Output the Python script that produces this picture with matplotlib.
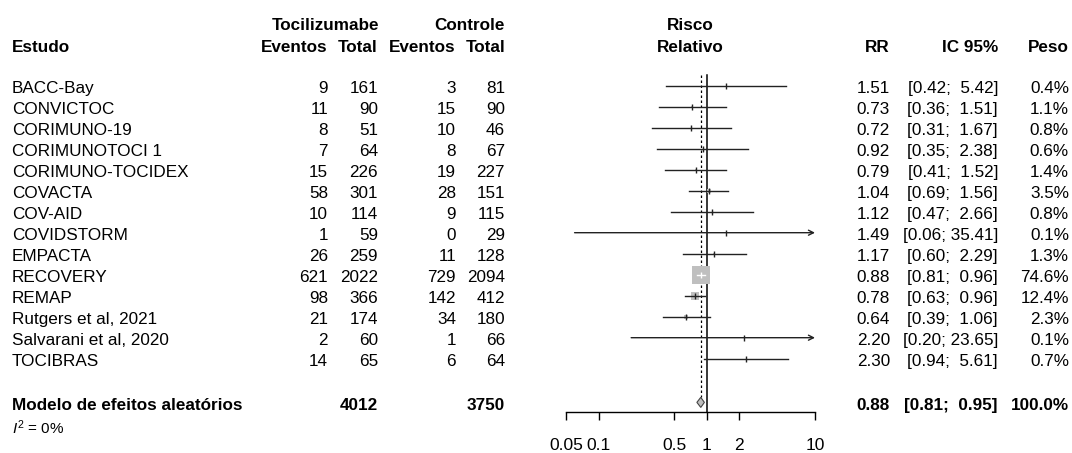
import numpy as np
import matplotlib

matplotlib.use("Agg")
import matplotlib.pyplot as plt  # noqa: E402
from matplotlib.transforms import blended_transform_factory  # noqa: E402

plt.rcParams["font.family"] = ["Liberation Sans", "DejaVu Sans"]
plt.rcParams["mathtext.fontset"] = "custom"
plt.rcParams["mathtext.rm"] = "Liberation Sans"
plt.rcParams["mathtext.it"] = "Liberation Sans:italic"

# ---- data ----
studies = [
    "BACC-Bay", "CONVICTOC", "CORIMUNO-19", "CORIMUNOTOCI 1", "CORIMUNO-TOCIDEX",
    "COVACTA", "COV-AID", "COVIDSTORM", "EMPACTA", "RECOVERY", "REMAP",
    "Rutgers et al, 2021", "Salvarani et al, 2020", "TOCIBRAS",
]
ev_toci = [9, 11, 8, 7, 15, 58, 10, 1, 26, 621, 98, 21, 2, 14]
n_toci = [161, 90, 51, 64, 226, 301, 114, 59, 259, 2022, 366, 174, 60, 65]
ev_ctrl = [3, 15, 10, 8, 19, 28, 9, 0, 11, 729, 142, 34, 1, 6]
n_ctrl = [81, 90, 46, 67, 227, 151, 115, 29, 128, 2094, 412, 180, 66, 64]
rr = [1.51, 0.73, 0.72, 0.92, 0.79, 1.04, 1.12, 1.49, 1.17, 0.88, 0.78, 0.64, 2.20, 2.30]
ci_lo = [0.42, 0.36, 0.31, 0.35, 0.41, 0.69, 0.47, 0.06, 0.60, 0.81, 0.63, 0.39, 0.20, 0.94]
ci_hi = [5.42, 1.51, 1.67, 2.38, 1.52, 1.56, 2.66, 35.41, 2.29, 0.96, 0.96, 1.06, 23.65, 5.61]
weight = [0.4, 1.1, 0.8, 0.6, 1.4, 3.5, 0.8, 0.1, 1.3, 74.6, 12.4, 2.3, 0.1, 0.7]
pooled_rr, pooled_lo, pooled_hi, pooled_weight = 0.88, 0.81, 0.95, 100.0
total_toci, total_ctrl = 4012, 3750
i2 = 0
ticks = [0.05, 0.1, 0.5, 1, 2, 10]
x_lim = (0.05, 10)

# ---- layout (pixels of a 1072x453 canvas) ----
W, H = 1072, 453
FS = 12.3
row0_px, row_h = 85.7, 21.0
px_per_dec = 249 / np.log10(x_lim[1] / x_lim[0])
max_sq_px = 18.0
text_dy = 0.13  # text sits a little below the marks' row centre


def fx(px):
    return px / W


fig = plt.figure(figsize=(W / 100, H / 100), dpi=100)
ax = fig.add_axes([fx(566), 0, fx(249), 1])
ax.set_xscale("log")
ax.set_xlim(*x_lim)
ax.set_ylim((H - row0_px) / row_h, -row0_px / row_h)
ax.patch.set_visible(False)
for s in ("top", "left", "right"):
    ax.spines[s].set_visible(False)

y_rows = np.arange(len(studies))
y_sum = 15.08
y_axis = 15.55

ax.spines["bottom"].set_position(("data", y_axis))
ax.spines["bottom"].set_bounds(*x_lim)
ax.spines["bottom"].set_linewidth(1.0)
ax.set_yticks([])
ax.set_xticks(ticks)
ax.set_xticklabels([f"{t:g}" for t in ticks])
ax.xaxis.set_minor_locator(matplotlib.ticker.NullLocator())
ax.tick_params(axis="x", length=8 * 0.72, width=1.0, pad=12.5, labelsize=12.5)

# reference lines
ax.plot([1, 1], [-0.5, y_axis], color="black", lw=1.1, clip_on=False)
ax.plot([pooled_rr, pooled_rr], [-0.5, y_sum - 0.25], color="black", lw=0.9,
        ls=(0, (2, 2)), clip_on=False)

# study rows
for y, est, lo, hi, w in zip(y_rows, rr, ci_lo, ci_hi, weight):
    side_px = max_sq_px * np.sqrt(w / max(weight))
    half_dec = side_px / 2 / px_per_dec
    inside = lo >= est / 10 ** half_dec and hi <= est * 10 ** half_dec
    ax.plot(est, y, marker="s", ms=side_px * 0.72, color="#bfbfbf", mew=0,
            zorder=2, clip_on=False)
    col = "white" if inside else "#222222"
    if hi > x_lim[1]:
        ax.annotate("", xy=(x_lim[1], y), xytext=(lo, y),
                    arrowprops=dict(arrowstyle="->", lw=1.0, color=col,
                                    shrinkA=0, shrinkB=0, mutation_scale=9),
                    annotation_clip=False, zorder=3)
    else:
        ax.plot([lo, hi], [y, y], color=col, lw=1.0, zorder=3, clip_on=False)
    ax.plot(est, y, marker="|", ms=4.5, mew=1.0, color=col, zorder=4, clip_on=False)

# pooled diamond
dh = 0.24
ax.fill([pooled_lo, pooled_rr, pooled_hi, pooled_rr],
        [y_sum, y_sum - dh, y_sum, y_sum + dh],
        facecolor="#bfbfbf", edgecolor="#444444", lw=0.8, zorder=3, clip_on=False)

# ---- text columns ----
tr = blended_transform_factory(fig.transFigure, ax.transData)


def txt(px, y, s, ha="right", bold=False, size=FS):
    ax.text(fx(px), y + text_dy, s, transform=tr, ha=ha, va="center", fontsize=size,
            fontweight="bold" if bold else "normal")


# headers
y_h1, y_h2 = -2.99, -1.94
txt(12, y_h2, "Estudo", ha="left", bold=True)
txt(379, y_h1, "Tocilizumabe", bold=True)
txt(505, y_h1, "Controle", bold=True)
txt(328, y_h2, "Eventos", bold=True)
txt(378, y_h2, "Total", bold=True)
txt(456, y_h2, "Eventos", bold=True)
txt(505, y_h2, "Total", bold=True)
txt(690, y_h1, "Risco", ha="center", bold=True)
txt(690, y_h2, "Relativo", ha="center", bold=True)
txt(890, y_h2, "RR", bold=True)
txt(998, y_h2, "IC 95%", bold=True)
txt(1069, y_h2, "Peso", bold=True)

for y, name, et, nt, ec, nc, est, lo, hi, w in zip(
        y_rows, studies, ev_toci, n_toci, ev_ctrl, n_ctrl, rr, ci_lo, ci_hi, weight):
    txt(12, y, name, ha="left")
    txt(328, y, str(et))
    txt(378, y, str(nt))
    txt(456, y, str(ec))
    txt(505, y, str(nc))
    txt(890, y, f"{est:.2f}")
    txt(998, y, f"[{lo:.2f}; {hi:5.2f}]")
    txt(1069, y, f"{w:.1f}%")

# pooled row
txt(12, y_sum, "Modelo de efeitos aleatórios", ha="left", bold=True)
txt(378, y_sum, str(total_toci), bold=True)
txt(505, y_sum, str(total_ctrl), bold=True)
txt(890, y_sum, f"{pooled_rr:.2f}", bold=True)
txt(998, y_sum, f"[{pooled_lo:.2f}; {pooled_hi:5.2f}]", bold=True)
txt(1069, y_sum, f"{pooled_weight:.1f}%", bold=True)
txt(12, 16.17, f"$I^2$ = {i2}%", ha="left", size=11)

fig.savefig("out.png", dpi=100)
